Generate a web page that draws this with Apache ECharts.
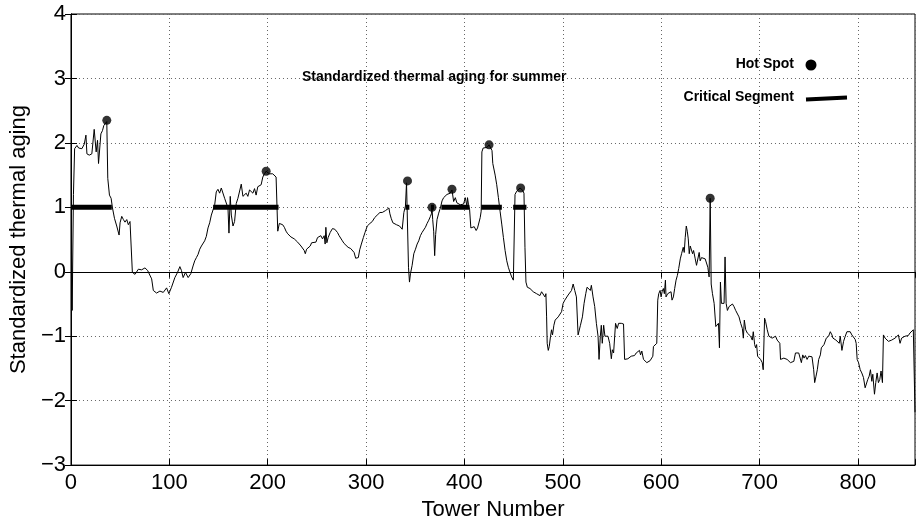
<!DOCTYPE html>
<html>
<head>
<meta charset="utf-8">
<script src="https://cdn.jsdelivr.net/npm/echarts@6/dist/echarts.min.js"></script>
<style>
  html, body { margin: 0; padding: 0; background: #fff; }
  #chart { width: 918px; height: 526px; }
</style>
</head>
<body>
<div id="chart"></div>
<script>
// standardized thermal aging along the line, [tower number, value]
const agingCurve = [
  [0.5, 0.3], [1.2, -0.6], [2.5, 1.2], [3.7, 1.91], [6.1, 1.96], [7.8, 1.92], [9.4, 1.95], [11.1, 1.91],
  [11.8, 1.88], [13.5, 1.98], [15.2, 2.12], [16.2, 1.83], [18.6, 1.81], [21.2, 1.83], [23.6, 2.21],
  [25.6, 1.86], [27.0, 2.04], [28.0, 1.68], [29.0, 1.70], [30.4, 2.14], [32.0, 2.19], [33.4, 2.27],
  [34.7, 2.29], [36.4, 2.33], [37.4, 1.45], [39.1, 1.19], [40.8, 1.14], [42.2, 0.99], [44.2, 0.83],
  [46.5, 0.71], [48.9, 0.57], [49.9, 0.76], [51.6, 0.86], [53.3, 0.81], [54.9, 0.77], [56.7, 0.81],
  [58.3, 0.73], [60.0, 0.78], [61.7, 0.81], [62.4, -0.01], [65.1, -0.04], [68.5, 0.04], [71.8, 0.03],
  [75.2, 0.06], [77.9, 0.02], [79.6, 0.04], [82.0, -0.11], [83.7, -0.29], [87.0, -0.33], [90.4, -0.30],
  [93.8, -0.32], [97.2, -0.25], [99.5, -0.34], [102.2, -0.24], [105.6, -0.09], [108.3, -0.01],
  [110.7, 0.08], [112.3, 0.02], [114.0, -0.09], [116.4, -0.01], [119.1, -0.09], [121.8, -0.03],
  [124.1, 0.09], [125.8, 0.17], [127.5, 0.22], [129.2, 0.27], [130.9, 0.35], [132.6, 0.40],
  [134.3, 0.37], [135.9, 0.48], [137.6, 0.55], [139.3, 0.68], [141.0, 0.76], [142.7, 0.88],
  [144.4, 0.96], [146.1, 1.04], [147.7, 1.24], [149.4, 1.28], [151.1, 1.22], [152.8, 1.30],
  [154.5, 1.27], [156.2, 1.14], [157.9, 1.17], [159.6, 0.99], [160.6, 0.60], [161.9, 1.17],
  [163.0, 0.88], [164.7, 0.71], [166.3, 0.78], [168.0, 1.06], [169.7, 1.14], [171.4, 1.17],
  [173.1, 1.36], [174.8, 1.17], [176.4, 1.19], [178.1, 1.22], [179.8, 1.17], [181.5, 1.27],
  [183.2, 1.30], [184.9, 1.22], [186.6, 1.29], [188.2, 1.19], [189.9, 1.32], [191.6, 1.29],
  [193.3, 1.35], [195.0, 1.47], [196.7, 1.52], [198.4, 1.56], [201.7, 1.52], [205.1, 1.52],
  [208.5, 1.47], [209.5, 1.45], [210.2, 0.63], [211.8, 0.75], [215.2, 0.73], [216.9, 0.69],
  [218.6, 0.63], [220.3, 0.59], [222.0, 0.57], [223.6, 0.54], [225.3, 0.56], [227.0, 0.51],
  [228.7, 0.48], [230.4, 0.46], [232.1, 0.43], [233.8, 0.40], [235.5, 0.38], [237.1, 0.33],
  [238.2, 0.28], [239.5, 0.35], [241.2, 0.32], [243.2, 0.40], [244.6, 0.45], [246.6, 0.48],
  [249.0, 0.46], [250.6, 0.53], [252.3, 0.52], [254.0, 0.56], [255.7, 0.51], [257.4, 0.56],
  [258.4, 0.43], [259.1, 0.69], [260.1, 0.45], [261.4, 0.53], [263.5, 0.61], [265.8, 0.67],
  [268.2, 0.66], [270.9, 0.61], [272.6, 0.56], [274.3, 0.53], [275.9, 0.48], [277.6, 0.44],
  [279.3, 0.41], [281.7, 0.38], [284.4, 0.36], [286.1, 0.35], [287.8, 0.30], [289.4, 0.21],
  [291.1, 0.20], [292.1, 0.22], [293.5, 0.34], [295.2, 0.43], [297.2, 0.53], [298.9, 0.61],
  [301.2, 0.71], [303.9, 0.75], [306.3, 0.78], [308.7, 0.84], [310.7, 0.85], [312.0, 0.89],
  [314.1, 0.92], [316.4, 0.92], [318.1, 0.94], [319.8, 0.95], [321.5, 0.98], [323.2, 0.99],
  [324.2, 0.90], [325.5, 0.83], [327.2, 0.76], [328.9, 0.75], [330.9, 0.73], [332.6, 0.76],
  [334.0, 0.71], [335.7, 0.71], [336.7, 0.66], [338.4, 0.92], [340.0, 1.02], [341.1, 1.38],
  [342.1, 1.40], [343.1, 0.07], [344.1, -0.16], [345.1, -0.03], [346.8, 0.10], [348.5, 0.28],
  [350.2, 0.35], [351.9, 0.43], [353.5, 0.48], [355.2, 0.56], [356.9, 0.61], [358.6, 0.64],
  [360.3, 0.69], [362.0, 0.75], [363.7, 0.80], [365.4, 0.86], [366.4, 0.90], [367.0, 0.99],
  [367.7, 0.81], [368.7, 0.63], [369.7, 0.25], [370.7, 0.58], [372.1, 0.81], [373.8, 0.91],
  [375.5, 0.99], [377.2, 1.10], [378.8, 1.15], [380.5, 1.17], [382.2, 1.20], [383.9, 1.21],
  [385.6, 1.22], [387.3, 1.27], [389.0, 1.09], [390.7, 1.15], [392.3, 1.07], [394.0, 1.09],
  [395.7, 1.04], [397.4, 1.02], [399.1, 1.05], [400.8, 1.15], [401.8, 1.17], [402.5, 1.02],
  [403.1, 1.15], [404.1, 1.04], [405.2, 0.97], [406.5, 0.68], [408.2, 0.66], [409.9, 0.70],
  [411.9, 0.64], [413.3, 0.68], [414.6, 0.71], [416.0, 0.84], [417.0, 0.94], [417.7, 1.86],
  [419.0, 1.92], [421.0, 1.95], [423.0, 1.93], [425.0, 1.97], [427.0, 1.94], [428.0, 1.88],
  [428.8, 1.68], [431.2, 1.50], [432.8, 1.35], [434.5, 1.15], [436.2, 0.94], [437.9, 0.74],
  [439.6, 0.53], [441.3, 0.33], [443.0, 0.17], [444.6, 0.07], [446.3, -0.01], [448.0, -0.08],
  [449.7, -0.13], [450.7, -0.11], [451.4, 1.20], [453.1, 1.25], [454.8, 1.22], [456.5, 1.30],
  [457.1, 1.29], [458.8, 1.27], [460.5, 1.22], [461.5, 0.38], [462.5, -0.16], [463.9, -0.24],
  [466.6, -0.26], [469.9, -0.31], [473.3, -0.34], [476.7, -0.37], [478.4, -0.31], [480.1, -0.34],
  [481.8, -0.39], [482.8, -0.34], [483.5, -0.70], [484.1, -1.11], [485.2, -1.22], [486.2, -1.16],
  [487.5, -1.00], [488.5, -0.90], [489.5, -0.98], [490.9, -0.83], [492.2, -0.75], [493.6, -0.72],
  [495.3, -0.70], [497.0, -0.67], [498.7, -0.62], [500.3, -0.49], [502.0, -0.44], [503.7, -0.42],
  [505.4, -0.36], [507.1, -0.34], [508.8, -0.29], [510.5, -0.19], [512.1, -0.29], [513.8, -0.39],
  [515.5, -0.98], [516.5, -0.95], [517.9, -0.83], [519.9, -0.70], [521.6, -0.49], [523.3, -0.34],
  [524.6, -0.24], [526.3, -0.21], [528.0, -0.29], [529.0, -0.21], [530.7, -0.39], [532.4, -0.54],
  [534.1, -0.80], [535.8, -1.00], [536.8, -1.36], [538.1, -1.00], [539.1, -0.83], [540.1, -1.11],
  [541.5, -0.83], [542.8, -1.00], [544.2, -1.03], [545.9, -1.00], [547.6, -1.11], [549.3, -1.35],
  [550.3, -1.21], [551.6, -1.26], [553.6, -0.80], [555.3, -0.88], [556.7, -0.80], [559.4, -0.80],
  [561.7, -0.81], [562.8, -1.36], [564.4, -1.37], [566.1, -1.35], [567.8, -1.34], [569.5, -1.31],
  [571.2, -1.29], [572.9, -1.30], [574.6, -1.26], [576.3, -1.23], [577.9, -1.22], [579.0, -1.29],
  [580.3, -1.23], [582.0, -1.36], [583.7, -1.34], [585.4, -1.41], [587.1, -1.44], [588.7, -1.38],
  [590.4, -1.36], [591.5, -1.31], [592.1, -1.16], [593.1, -1.13], [594.1, -1.16], [595.5, -1.11],
  [596.5, -0.44], [597.5, -0.34], [598.9, -0.29], [599.9, -0.39], [600.9, -0.31], [602.2, -0.26],
  [603.2, -0.34], [604.3, -0.13], [604.9, -0.39], [606.6, -0.34], [608.3, -0.37], [610.0, -0.31],
  [611.0, -0.44], [612.4, -0.39], [613.7, -0.26], [615.1, -0.13], [616.4, -0.06], [617.8, 0.05],
  [618.4, 0.05], [619.4, 0.20], [620.7, 0.28], [622.4, 0.38], [623.4, 0.30], [624.4, 0.53],
  [625.5, 0.71], [626.5, 0.63], [627.5, 0.51], [628.5, 0.28], [629.5, 0.40], [630.5, 0.43],
  [631.9, 0.28], [632.9, 0.33], [634.6, 0.20], [635.9, 0.10], [637.6, 0.12], [638.6, 0.30],
  [639.6, 0.17], [641.0, 0.22], [642.7, 0.20], [644.7, 0.20], [646.0, 0.17], [647.4, 0.07],
  [648.7, -0.08], [649.8, 1.14], [650.8, -0.19], [652.1, -0.34], [653.8, -0.49], [655.5, -0.85],
  [657.2, -0.88], [658.2, -0.80], [659.2, -1.18], [660.2, -0.16], [661.2, -0.49], [662.6, -0.52],
  [663.9, -0.49], [664.9, 0.23], [666.0, -0.49], [667.3, -0.60], [669.0, -0.54], [670.7, -0.52],
  [672.4, -0.50], [674.0, -0.54], [675.7, -0.60], [677.4, -0.62], [679.1, -0.70], [680.8, -0.80],
  [682.5, -0.88], [683.5, -1.03], [684.5, -0.75], [685.9, -0.90], [687.5, -0.95], [689.2, -0.98],
  [690.9, -1.00], [692.6, -1.06], [693.6, -0.93], [695.0, -1.13], [696.0, -1.18], [697.0, -1.13],
  [698.0, -1.31], [699.4, -1.29], [701.0, -1.36], [702.7, -1.41], [703.7, -1.52], [705.1, -0.72],
  [706.1, -0.77], [707.8, -0.90], [709.5, -1.00], [711.2, -0.98], [712.8, -1.03], [714.5, -1.00],
  [716.2, -1.00], [717.9, -1.06], [719.6, -1.03], [720.6, -1.11], [721.3, -1.36], [723.0, -1.35],
  [724.7, -1.34], [726.3, -1.35], [728.0, -1.36], [729.7, -1.39], [731.4, -1.41], [733.1, -1.44],
  [734.8, -1.39], [736.5, -1.26], [738.2, -1.25], [739.8, -1.26], [741.5, -1.29], [742.5, -1.41],
  [743.9, -1.29], [745.2, -1.34], [746.6, -1.30], [748.3, -1.36], [750.0, -1.31], [751.6, -1.34],
  [753.3, -1.32], [755.0, -1.52], [756.0, -1.72], [757.4, -1.62], [758.7, -1.52], [760.1, -1.36],
  [761.8, -1.29], [762.8, -1.18], [764.1, -1.16], [765.5, -1.13], [766.8, -1.11], [767.8, -1.03],
  [769.2, -1.06], [770.2, -1.00], [771.9, -0.93], [773.6, -0.98], [774.6, -1.03], [775.9, -1.00],
  [777.6, -1.06], [779.3, -1.03], [781.0, -1.11], [782.0, -1.00], [783.7, -1.22], [785.4, -1.08],
  [787.1, -1.00], [788.8, -0.93], [790.5, -0.90], [792.1, -0.93], [793.8, -0.98], [795.5, -1.00],
  [797.2, -1.05], [798.2, -1.11], [799.2, -1.36], [800.6, -1.41], [802.3, -1.52], [803.9, -1.57],
  [805.6, -1.64], [807.3, -1.80], [808.7, -1.82], [810.0, -1.67], [811.4, -1.62], [812.7, -1.52],
  [814.1, -1.70], [815.1, -1.59], [816.8, -1.90], [818.1, -1.72], [819.5, -1.57], [820.8, -1.72],
  [822.2, -1.67], [823.5, -1.54], [824.9, -1.72], [825.9, -0.98], [827.6, -1.03], [829.3, -1.06],
  [831.0, -1.08], [832.6, -1.08], [834.3, -1.06], [836.0, -1.05], [837.7, -1.03], [839.4, -1.00],
  [841.1, -0.98], [842.8, -1.11], [844.4, -1.03], [846.1, -1.00], [847.8, -1.00], [849.5, -0.98],
  [851.2, -0.99], [852.9, -0.95], [854.6, -0.93], [856.3, -0.90], [857.3, -0.90], [858.0, -2.18]
]

// hot spots (tower, value)
const hotSpotTowers = [36.4, 198.4, 342.1, 367.0, 387.3, 425.0, 457.1, 649.8]
const hotSpotValues = [2.35, 1.56, 1.41, 1.00, 1.28, 1.97, 1.30, 1.14]

// critical segments drawn at level 1
const segmentStart = [0, 144.5, 340.0, 366.0, 376.5, 417.0, 449.5]
const segmentEnd = [41.5, 211.0, 344.0, 369.0, 405.0, 438.0, 463.0]
const segmentLevel = 1

const xTicks = { min: 0, max: 858, interval: 100 }
const yTicks = { min: -3, max: 4, interval: 1 }

const chart = echarts.init(document.getElementById('chart'))

// 段之间用 '-' 断开
const segmentData = []
segmentStart.forEach((s, i) => {
  segmentData.push([s, segmentLevel], [segmentEnd[i], segmentLevel], [segmentEnd[i] + 0.1, '-'])
})

const fontFamily = '"Liberation Sans", Arial, Helvetica, sans-serif'
const gridDots = { type: [1, 3], color: '#666', width: 1 }

const option = {
  animation: false,
  backgroundColor: '#fff',
  grid: {
    left: 70, right: 1, top: 14, bottom: 56,
    show: true, borderColor: '#000', borderWidth: 1
  },
  xAxis: [
    {
      type: 'value',
      min: xTicks.min, max: xTicks.max, interval: xTicks.interval,
      name: 'Tower Number',
      nameLocation: 'middle',
      nameGap: 32,
      nameTextStyle: { fontFamily, fontSize: 22, color: '#000' },
      axisLine: { show: true, onZero: false, lineStyle: { color: '#000' } },
      axisTick: { show: true, inside: true, length: 6, lineStyle: { color: '#000' } },
      axisLabel: {
        fontFamily, fontSize: 22, color: '#000', margin: 7,
        formatter: v => (v % 100 === 0 ? String(v) : '')
      },
      splitLine: { show: true, lineStyle: gridDots }
    },
    {
      type: 'value', position: 'top',
      min: xTicks.min, max: xTicks.max, interval: xTicks.interval,
      axisLine: { show: true, lineStyle: { color: '#000' } },
      axisTick: { show: true, inside: true, length: 6, lineStyle: { color: '#000' } },
      axisLabel: { show: false },
      splitLine: { show: false }
    }
  ],
  yAxis: [
    {
      type: 'value',
      min: yTicks.min, max: yTicks.max, interval: yTicks.interval,
      name: 'Standardized thermal aging',
      nameLocation: 'middle',
      nameGap: 36,
      nameTextStyle: { fontFamily, fontSize: 22, color: '#000' },
      axisLine: { show: true, onZero: false, lineStyle: { color: '#000' } },
      axisTick: { show: true, inside: true, length: 6, lineStyle: { color: '#000' } },
      axisLabel: {
        fontFamily, fontSize: 22, color: '#000', margin: 5,
        formatter: v => (v < 0 ? '\u2212' + Math.abs(v) : String(v))
      },
      splitLine: { show: true, lineStyle: gridDots }
    },
    {
      type: 'value', position: 'right',
      min: yTicks.min, max: yTicks.max, interval: yTicks.interval,
      axisLine: { show: true, lineStyle: { color: '#000' } },
      axisTick: { show: true, inside: true, length: 6, lineStyle: { color: '#000' } },
      axisLabel: { show: false },
      splitLine: { show: false }
    }
  ],
  series: [
    {
      name: 'Standardized thermal aging',
      type: 'line',
      data: agingCurve,
      showSymbol: false,
      lineStyle: { color: '#000', width: 1 },
      markLine: {
        silent: true,
        symbol: 'none',
        label: { show: false },
        lineStyle: { color: '#000', width: 1, type: 'solid' },
        data: [{ yAxis: 0 }]
      },
      z: 3
    },
    {
      name: 'Critical Segment',
      type: 'line',
      data: segmentData,
      connectNulls: false,
      showSymbol: false,
      lineStyle: { color: '#000', width: 5, cap: 'butt' },
      z: 4
    },
    {
      name: 'Hot Spot',
      type: 'scatter',
      data: hotSpotTowers.map((t, i) => [t, hotSpotValues[i]]),
      symbol: 'circle',
      symbolSize: 9,
      itemStyle: { color: '#000' },
      z: 5
    }
  ],
  graphic: [
    {
      type: 'text', left: 302, top: 70,
      style: { text: 'Standardized thermal aging for summer', font: 'bold 14px ' + fontFamily, fill: '#000' }
    },
    {
      type: 'text', right: 918 - 794, top: 57,
      style: { text: 'Hot Spot', font: 'bold 14px ' + fontFamily, fill: '#000' }
    },
    {
      type: 'circle', shape: { cx: 811, cy: 65, r: 5.5 },
      style: { fill: '#000' }
    },
    {
      type: 'text', right: 918 - 794, top: 90,
      style: { text: 'Critical Segment', font: 'bold 14px ' + fontFamily, fill: '#000' }
    },
    {
      type: 'line', shape: { x1: 806, y1: 99.5, x2: 847, y2: 97.5 },
      style: { stroke: '#000', lineWidth: 4 }
    }
  ]
}

chart.setOption(option)
</script>
</body>
</html>
